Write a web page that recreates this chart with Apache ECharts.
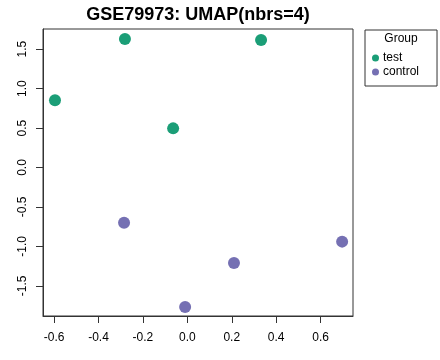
<!DOCTYPE html>
<html>
<head>
<meta charset="utf-8">
<script src="https://cdn.jsdelivr.net/npm/echarts@6/dist/echarts.min.js"></script>
<style>
  html, body { margin: 0; padding: 0; background: #fff; }
  #chart { width: 440px; height: 360px; }
</style>
</head>
<body>
<div id="chart"></div>
<script>
// UMAP coordinates
const testPoints = [[-0.281, 1.63], [0.332, 1.616], [-0.596, 0.852], [-0.064, 0.496]]
const controlPoints = [[-0.285, -0.70], [0.697, -0.94], [0.21, -1.21], [-0.010, -1.77]]
const xTicks = [-0.6, -0.4, -0.2, 0.0, 0.2, 0.4, 0.6]
const yTicks = [-1.5, -1.0, -0.5, 0.0, 0.5, 1.0, 1.5]

const font = "Liberation Sans, Arial, Helvetica, sans-serif"
let myChart = echarts.init(document.getElementById("chart"))

myChart.setOption({
  animation: false,
  title: {
    text: "GSE79973: UMAP(nbrs=4)",
    left: 198,
    textAlign: "center",
    top: 6,
    padding: 0,
    textStyle: { fontFamily: font, fontSize: 18, fontWeight: "bold", color: "#000" }
  },
  grid: {
    left: 43,
    right: 87,
    top: 29,
    bottom: 44,
    show: true,
    borderColor: "#333",
    borderWidth: 1,
    backgroundColor: "transparent"
  },
  xAxis: {
    type: "value",
    min: -0.65,
    max: 0.746,
    splitLine: { show: false },
    axisLine: { show: true, onZero: false, lineStyle: { color: "#333" } },
    axisTick: { show: true, length: 7, customValues: xTicks, lineStyle: { color: "#333" } },
    axisLabel: {
      customValues: xTicks,
      formatter: v => v.toFixed(1),
      margin: 16,
      fontFamily: font,
      fontSize: 12,
      color: "#000"
    }
  },
  yAxis: {
    type: "value",
    min: -1.883,
    max: 1.756,
    splitLine: { show: false },
    axisLine: { show: true, onZero: false, lineStyle: { color: "#333" } },
    axisTick: { show: true, length: 7, customValues: yTicks, lineStyle: { color: "#333" } },
    axisLabel: {
      customValues: yTicks,
      formatter: v => v.toFixed(1),
      rotate: 90,
      margin: 14,
      fontFamily: font,
      fontSize: 12,
      color: "#000"
    }
  },
  legend: {
    left: 365,
    top: 30,
    orient: "vertical",
    icon: "circle",
    itemWidth: 7,
    itemHeight: 7,
    itemGap: 2,
    padding: [22, 18, 8, 7],
    borderColor: "#333",
    borderWidth: 1,
    textStyle: { fontFamily: font, fontSize: 12, color: "#000", padding: [0, 0, 0, -1] },
    data: ["test", "control"]
  },
  graphic: [
    {
      type: "text",
      x: 401,
      y: 39,
      style: {
        text: "Group",
        textAlign: "center",
        textVerticalAlign: "middle",
        font: "12px " + font,
        fill: "#000"
      }
    }
  ],
  series: [
    {
      name: "test",
      type: "scatter",
      data: testPoints,
      symbolSize: 12,
      itemStyle: { color: "#1B9E77", opacity: 1 }
    },
    {
      name: "control",
      type: "scatter",
      data: controlPoints,
      symbolSize: 12,
      itemStyle: { color: "#7570B3", opacity: 1 }
    }
  ]
})
</script>
</body>
</html>
